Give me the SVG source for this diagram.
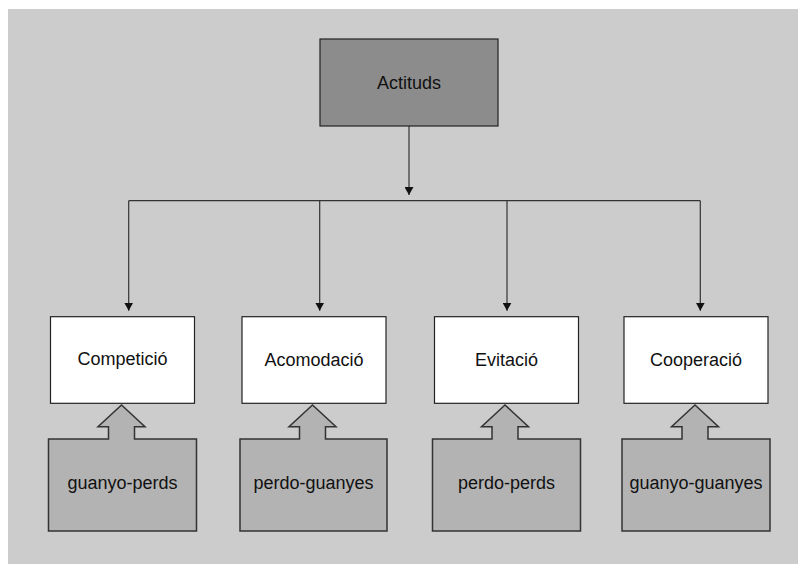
<svg xmlns="http://www.w3.org/2000/svg" width="798" height="564" viewBox="0 0 798 564">
<defs>
<marker id="ah" viewBox="0 0 8 9" refX="8" refY="4.5" markerWidth="8" markerHeight="9" markerUnits="userSpaceOnUse" orient="auto">
<path d="M0,0 L8,4.5 L0,9 Z" fill="#111"/>
</marker>
<style>
.bg{fill:#cccccc}
.top{fill:#8c8c8c;stroke:#222;stroke-width:1.2}
.white{fill:#ffffff;stroke:#222;stroke-width:1.2}
.src{fill:#b3b3b3;stroke:#333;stroke-width:1.5;stroke-linejoin:miter}
.conn{fill:none;stroke:#333;stroke-width:1.2}
text{font-family:"Liberation Sans",Arial,Helvetica,sans-serif;font-size:18px;fill:#111;text-anchor:middle}
</style>
</defs>
<rect class="bg" x="8" y="9" width="790" height="555"/>
<g id="connectors">
<line class="conn" x1="409" y1="126" x2="409" y2="195" marker-end="url(#ah)"/>
<line class="conn" x1="128.7" y1="200.7" x2="700.3" y2="200.7"/>
<line class="conn" x1="128.7" y1="200.7" x2="128.7" y2="310.7" marker-end="url(#ah)"/>
<line class="conn" x1="319.7" y1="200.7" x2="319.7" y2="310.7" marker-end="url(#ah)"/>
<line class="conn" x1="507" y1="200.7" x2="507" y2="310.7" marker-end="url(#ah)"/>
<line class="conn" x1="700.3" y1="200.7" x2="700.3" y2="310.7" marker-end="url(#ah)"/>
</g>
<g id="actituds">
<rect class="top" x="320" y="39" width="178" height="87"/>
<text x="409" y="88.5">Actituds</text>
</g>
<g id="competicio">
<rect class="white" x="50.5" y="316.7" width="144" height="86.6"/>
<text x="122.5" y="365">Competició</text>
</g>
<g id="acomodacio">
<rect class="white" x="242" y="316.7" width="144" height="86.6"/>
<text x="314" y="365.5">Acomodació</text>
</g>
<g id="evitacio">
<rect class="white" x="434.5" y="316.7" width="144" height="86.6"/>
<text x="506.5" y="366">Evitació</text>
</g>
<g id="cooperacio">
<rect class="white" x="624" y="316.7" width="144" height="86.6"/>
<text x="696" y="366">Cooperació</text>
</g>
<g id="guanyo-perds">
<path class="src" d="M48.5,439 L108.5,439 L108.5,426.7 L98,426.7 L121.5,405 L145,426.7 L134.5,426.7 L134.5,439 L196.5,439 L196.5,531 L48.5,531 Z"/>
<text x="122.5" y="489">guanyo-perds</text>
</g>
<g id="perdo-guanyes">
<path class="src" d="M240,439 L299.5,439 L299.5,426.7 L289,426.7 L312.5,405 L336,426.7 L325.5,426.7 L325.5,439 L387,439 L387,531 L240,531 Z"/>
<text x="313.5" y="489">perdo-guanyes</text>
</g>
<g id="perdo-perds">
<path class="src" d="M432.5,439 L492,439 L492,426.7 L481.5,426.7 L505,405 L528.5,426.7 L518,426.7 L518,439 L580.5,439 L580.5,531 L432.5,531 Z"/>
<text x="506.5" y="489">perdo-perds</text>
</g>
<g id="guanyo-guanyes">
<path class="src" d="M622,439 L682,439 L682,426.7 L671.5,426.7 L695,405 L718.5,426.7 L708,426.7 L708,439 L770,439 L770,531 L622,531 Z"/>
<text x="696" y="489">guanyo-guanyes</text>
</g>
</svg>
